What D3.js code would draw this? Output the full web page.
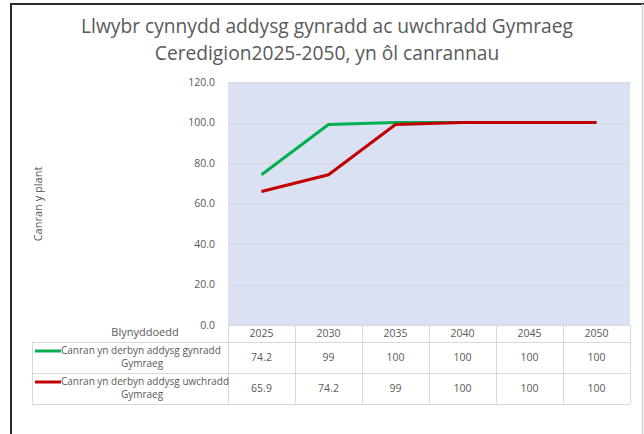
<!DOCTYPE html>
<html>
<head>
<meta charset="utf-8">
<script src="https://cdn.jsdelivr.net/npm/d3@7"></script>
<style>
  body { margin: 0; background: #fff; }
  svg { display: block; font-family: "Open Sans", "Noto Sans", sans-serif; }
</style>
</head>
<body>
<svg id="chart" width="644" height="434"></svg>
<script>
const years = ["2025", "2030", "2035", "2040", "2045", "2050"];
const primaryValues = [74.2, 99, 100, 100, 100, 100];
const secondaryValues = [65.9, 74.2, 99, 100, 100, 100];
const yTickValues = [0, 20, 40, 60, 80, 100, 120];
const seriesNames = ["Canran yn derbyn addysg gynradd", "Canran yn derbyn addysg uwchradd"];
const seriesNameEnd = "Gymraeg";
const titleLines = ["Llwybr cynnydd addysg gynradd ac uwchradd Gymraeg", "Ceredigion2025-2050, yn ôl canrannau"];

const svg = d3.select("#chart");
const width = 644, height = 434;
const plot = { left: 228, right: 630, top: 82, bottom: 325 };
const tableLeft = 32;
const rowH = 31;
const textColor = "#595959";
const gridColor = "#d9d9d9";

// frame
svg.append("rect").attr("width", width).attr("height", height).attr("fill", "#fff");
svg.append("line").attr("x1", 11).attr("x2", 11).attr("y1", 3).attr("y2", height)
  .attr("stroke", "#2b2b2b").attr("stroke-width", 2);
svg.append("line").attr("x1", 10).attr("x2", width).attr("y1", 4).attr("y2", 4)
  .attr("stroke", "#2b2b2b").attr("stroke-width", 2);
svg.append("line").attr("x1", 642.5).attr("x2", 642.5).attr("y1", 4).attr("y2", height)
  .attr("stroke", "#d4d4d4").attr("stroke-width", 1.5);

// title
svg.append("g").selectAll("text").data(titleLines).join("text")
  .attr("x", 327).attr("y", (d, i) => 33 + i * 27)
  .attr("text-anchor", "middle")
  .attr("font-size", 19.2)
  .attr("fill", textColor)
  .text(d => d);

const x = d3.scaleBand().domain(years).range([plot.left, plot.right]);
const y = d3.scaleLinear().domain([0, 120]).range([plot.bottom, plot.top]);

// plot area
svg.append("rect")
  .attr("x", plot.left).attr("y", plot.top)
  .attr("width", plot.right - plot.left).attr("height", plot.bottom - plot.top)
  .attr("fill", "#d9e1f2");

svg.append("g").selectAll("line").data(yTickValues.slice(1)).join("line")
  .attr("x1", plot.left).attr("x2", plot.right)
  .attr("y1", d => Math.round(y(d)) + 0.5).attr("y2", d => Math.round(y(d)) + 0.5)
  .attr("stroke", gridColor).attr("stroke-width", 1);

// y axis labels
const yAxis = svg.append("g")
  .attr("transform", `translate(${plot.left - 10},0)`)
  .call(d3.axisLeft(y).tickValues(yTickValues).tickFormat(d3.format(".1f")).tickSize(0));
yAxis.select(".domain").remove();
yAxis.selectAll("text").attr("fill", textColor).attr("font-size", 10.5)
  .attr("font-family", "'Open Sans', sans-serif").attr("dy", "0.32em");

svg.append("text")
  .attr("transform", `translate(42,204) rotate(-90)`)
  .attr("text-anchor", "middle").attr("font-size", 11).attr("fill", textColor)
  .text("Canran y plant");

// lines
const line = d3.line()
  .x((d, i) => x(years[i]) + x.bandwidth() / 2)
  .y(d => y(d));

const series = [
  { values: primaryValues, color: "#00b050" },
  { values: secondaryValues, color: "#c00000" }
];

svg.append("g").selectAll("path").data(series).join("path")
  .attr("d", d => line(d.values))
  .attr("fill", "none")
  .attr("stroke", d => d.color)
  .attr("stroke-width", 3)
  .attr("stroke-linejoin", "round");

// data table
const table = svg.append("g");
const headerBottom = plot.bottom + 16.5;
const rowTop = i => headerBottom + i * rowH;
const tableBottom = rowTop(2);

table.append("text")
  .attr("x", 145).attr("y", 336)
  .attr("text-anchor", "middle").attr("font-size", 11).attr("fill", textColor)
  .text("Blynyddoedd");

table.append("g").selectAll("text").data(years).join("text")
  .attr("x", d => x(d) + x.bandwidth() / 2).attr("y", 337)
  .attr("text-anchor", "middle").attr("font-size", 10.5).attr("fill", textColor)
  .text(d => d);

// vertical borders
const vx = years.map(d => x(d)).concat([plot.right]);
table.append("g").selectAll("line").data(vx).join("line")
  .attr("x1", d => Math.round(d) + 0.5).attr("x2", d => Math.round(d) + 0.5)
  .attr("y1", plot.bottom).attr("y2", tableBottom)
  .attr("stroke", gridColor);
table.append("line")
  .attr("x1", tableLeft + 0.5).attr("x2", tableLeft + 0.5)
  .attr("y1", headerBottom).attr("y2", tableBottom).attr("stroke", gridColor);

// horizontal borders
table.append("line").attr("x1", plot.left).attr("x2", plot.right)
  .attr("y1", plot.bottom + 0.5).attr("y2", plot.bottom + 0.5).attr("stroke", gridColor);
table.append("g").selectAll("line").data([0, 1, 2]).join("line")
  .attr("x1", tableLeft).attr("x2", plot.right)
  .attr("y1", i => Math.round(rowTop(i)) + 0.5).attr("y2", i => Math.round(rowTop(i)) + 0.5)
  .attr("stroke", gridColor);

// rows
series.forEach((s, i) => {
  const top = rowTop(i);
  const row = table.append("g");
  row.append("line")
    .attr("x1", 35).attr("x2", 61)
    .attr("y1", top + 9.5).attr("y2", top + 9.5)
    .attr("stroke", s.color).attr("stroke-width", 3);
  row.append("text")
    .attr("x", 61).attr("y", top + 12.5)
    .attr("font-size", 10).attr("fill", textColor)
    .text(seriesNames[i]);
  row.append("text")
    .attr("x", 142).attr("y", top + 25.5)
    .attr("text-anchor", "middle")
    .attr("font-size", 10).attr("fill", textColor)
    .text(seriesNameEnd);
  row.selectAll("text.val").data(s.values).join("text")
    .attr("class", "val")
    .attr("x", (d, j) => x(years[j]) + x.bandwidth() / 2)
    .attr("y", top + 19.5)
    .attr("text-anchor", "middle")
    .attr("font-size", 10.5).attr("fill", textColor)
    .text(d => d);
});
</script>
</body>
</html>
